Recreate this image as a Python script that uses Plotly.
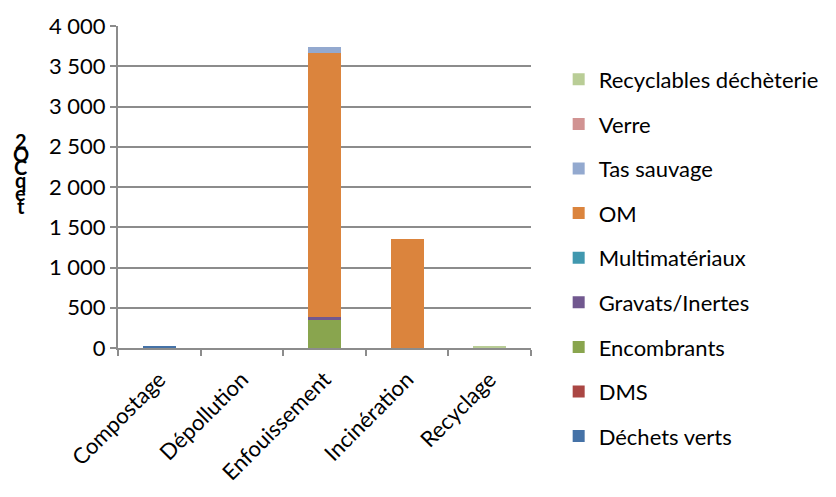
import plotly.graph_objects as go

# Émissions par filière de traitement (t éq. CO2) ; None = pas d'émission
filieres = ["Compostage", "Dépollution", "Enfouissement", "Incinération", "Recyclage"]

dechets_verts = [25, None, None, None, None]
dms = [None, None, None, None, None]
encombrants = [None, None, 343, None, None]
gravats_inertes = [None, None, 48, None, None]
multimateriaux = [None, None, None, None, None]
om = [None, None, 3269, 1360, None]
tas_sauvage = [None, None, 81, None, None]
verre = [None, None, None, None, None]
recyclables_decheterie = [None, None, None, None, 20]

series = [
    ("Déchets verts", dechets_verts, "#4572A7"),
    ("DMS", dms, "#AA4643"),
    ("Encombrants", encombrants, "#89A54E"),
    ("Gravats/Inertes", gravats_inertes, "#71588F"),
    ("Multimatériaux", multimateriaux, "#4198AF"),
    ("OM", om, "#DB843D"),
    ("Tas sauvage", tas_sauvage, "#93A9CF"),
    ("Verre", verre, "#D19392"),
    ("Recyclables déchèterie", recyclables_decheterie, "#B9CD96"),
]

font_family = "Lato, 'Open Sans', sans-serif"
font_size = 22
grid_grey = "#8c8c8c"

fig = go.Figure()
n = len(series)
for i, (name, values, color) in enumerate(series):
    fig.add_trace(go.Bar(
        x=filieres,
        y=values,
        name=name,
        legendgroup=name,
        legendrank=(n - i) * 10,
        marker=dict(color=color, line=dict(width=0)),
    ))

fig.update_layout(
    barmode="stack",
    bargap=0.6,
    width=836,
    height=497,
    margin=dict(l=118, r=299, t=19, b=148),
    paper_bgcolor="white",
    plot_bgcolor="white",
    separators=", ",
    font=dict(family=font_family, size=font_size, color="black"),
    showlegend=True,
    legend=dict(
        traceorder="grouped",
        tracegroupgap=13,
        maxheight=1000,
        x=1.067,
        xanchor="left",
        y=0.899,
        yanchor="top",
        font=dict(family=font_family, size=font_size, color="black"),
        bgcolor="rgba(0,0,0,0)",
    ),
    xaxis=dict(
        tickangle=-45,
        showline=True,
        linecolor=grid_grey,
        linewidth=2,
        ticks="outside",
        tickson="boundaries",
        ticklen=6,
        tickwidth=2,
        tickcolor=grid_grey,
        ticklabelstandoff=8,
        showgrid=False,
        tickfont=dict(family=font_family, size=font_size, color="black"),
    ),
    yaxis=dict(
        range=[0, 4000],
        dtick=500,
        tickformat=",d",
        showline=True,
        linecolor=grid_grey,
        linewidth=2,
        ticks="outside",
        ticklen=6,
        tickwidth=2,
        tickcolor=grid_grey,
        showgrid=True,
        gridcolor=grid_grey,
        gridwidth=2,
        zeroline=False,
        tickfont=dict(family=font_family, size=font_size, color="black"),
    ),
)

# Titre de l'axe vertical, caractères empilés
title_chars = ["2", "O", "C", "q", "e", "t"]
for i, ch in enumerate(title_chars):
    fig.add_annotation(
        text=f"<b>{ch}</b>",
        xref="paper", yref="paper",
        x=-0.235, y=0.642,
        xanchor="center", yanchor="middle",
        yshift=-i * 13,
        showarrow=False,
        font=dict(family=font_family, size=20, color="black"),
    )

fig.write_html("out.html")
